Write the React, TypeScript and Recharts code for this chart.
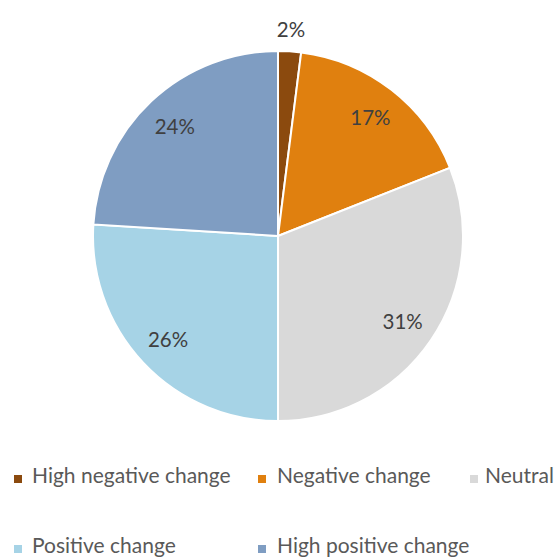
import { Cell, Legend, Pie, PieChart } from "recharts"

const categories = [
  "High negative change",
  "Negative change",
  "Neutral",
  "Positive change",
  "High positive change",
]
const shares = [2, 17, 31, 26, 24]
const colors = ["#8B4A0E", "#E0800F", "#D9D9D9", "#A6D3E6", "#7F9DC2"]

const data = categories.map((name, i) => ({ name, value: shares[i] }))

// legend grid: [markerX, textX, baselineY]
const legendSlots = [
  [14, 32, 483],
  [258, 277, 483],
  [470, 485, 483],
  [14, 32, 553],
  [258, 277, 553],
]

const FONT = "Lato, 'Open Sans', sans-serif"
const RADIAN = Math.PI / 180

function renderLabel(props: any) {
  const { cx, cy, midAngle, outerRadius, value, index } = props
  const r = index === 0 ? outerRadius + 22 : outerRadius * 0.815
  const x = cx + r * Math.cos(-midAngle * RADIAN)
  const y = cy + r * Math.sin(-midAngle * RADIAN)
  return (
    <text
      x={x}
      y={y}
      fill="#404040"
      fontSize={20.5}
      fontFamily={FONT}
      textAnchor="middle"
      dominantBaseline="central"
    >
      {`${value}%`}
    </text>
  )
}

function LegendContent() {
  return (
    <svg width={560} height={559} style={{ display: "block" }}>
      {categories.map((name, i) => {
        const [mx, tx, by] = legendSlots[i]
        return (
          <g key={name}>
            <rect x={mx} y={by - 8} width={8} height={8} fill={colors[i]} />
            <text x={tx} y={by} fill="#595959" fontSize={21} fontFamily={FONT}>
              {name}
            </text>
          </g>
        )
      })}
    </svg>
  )
}

export default function App() {
  return (
    <div
      style={{
        position: "absolute",
        left: 0,
        top: 0,
        width: 560,
        height: 559,
        overflow: "hidden",
        background: "#fff",
      }}
    >
      <PieChart width={560} height={559} margin={{ top: 0, right: 0, bottom: 0, left: 0 }}>
        <Pie
          data={data}
          dataKey="value"
          nameKey="name"
          cx={278}
          cy={236}
          outerRadius={185}
          startAngle={90}
          endAngle={-270}
          stroke="#fff"
          strokeWidth={2}
          label={renderLabel}
          labelLine={false}
          isAnimationActive={false}
        >
          {data.map((d, i) => (
            <Cell key={d.name} fill={colors[i]} />
          ))}
        </Pie>
        <Legend
          content={() => <LegendContent />}
          wrapperStyle={{ position: "absolute", left: 0, top: 0, width: 560, height: 559 }}
        />
      </PieChart>
    </div>
  )
}
